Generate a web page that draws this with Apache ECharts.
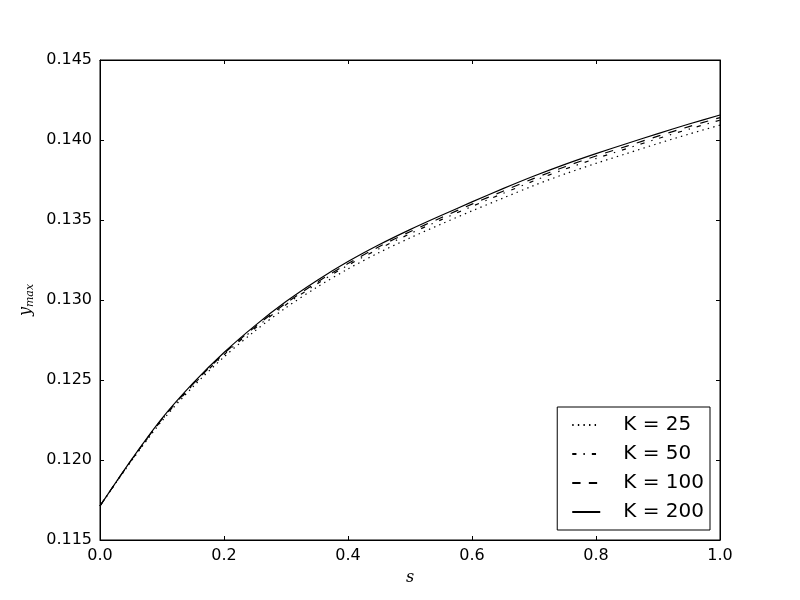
<!DOCTYPE html>
<html>
<head>
<meta charset="utf-8">
<script src="https://cdn.jsdelivr.net/npm/echarts@6/dist/echarts.min.js"></script>
<style>html,body{margin:0;padding:0;background:#fff}#c{width:800px;height:600px}</style>
</head>
<body>
<div id="c"></div>
<script>
var sValues = [0, 0.05, 0.1, 0.15, 0.2, 0.25, 0.3, 0.35, 0.4, 0.45, 0.5, 0.55, 0.6, 0.65, 0.7, 0.75, 0.8, 0.85, 0.9, 0.95, 1.0];
var k25  = [0.11713, 0.11990, 0.12244, 0.12458, 0.12644, 0.12807, 0.12952, 0.13080, 0.13194, 0.13296, 0.13388, 0.13474, 0.13557, 0.13637, 0.13716, 0.13788, 0.13854, 0.13916, 0.13978, 0.14037, 0.14093];
var k50  = [0.11713, 0.11994, 0.12252, 0.12469, 0.12658, 0.12823, 0.12971, 0.13101, 0.13217, 0.13320, 0.13414, 0.13501, 0.13585, 0.13666, 0.13745, 0.13818, 0.13884, 0.13947, 0.14009, 0.14068, 0.14124];
var k100 = [0.11713, 0.11996, 0.12256, 0.12474, 0.12665, 0.12832, 0.12980, 0.13111, 0.13228, 0.13333, 0.13427, 0.13514, 0.13599, 0.13680, 0.13760, 0.13833, 0.13900, 0.13962, 0.14024, 0.14084, 0.14140];
var k200 = [0.11713, 0.11998, 0.12260, 0.12480, 0.12672, 0.12840, 0.12990, 0.13122, 0.13240, 0.13345, 0.13440, 0.13528, 0.13613, 0.13696, 0.13775, 0.13848, 0.13915, 0.13978, 0.14040, 0.14100, 0.14156];
var seriesNames = ['K = 25', 'K = 50', 'K = 100', 'K = 200'];
var xTicks = [0.0, 0.2, 0.4, 0.6, 0.8, 1.0];
var yTicks = [0.115, 0.120, 0.125, 0.130, 0.135, 0.140, 0.145];

function pairs(ys) { return sValues.map(function (s, i) { return [s, ys[i]]; }); }

var styles = [
  { type: [1.4, 4.2] },
  { type: [4.2, 7, 1.4, 7] },
  { type: [8.3, 8.3] },
  { type: 'solid' }
];
var datasets = [k25, k50, k100, k200];

var chart = echarts.init(document.getElementById('c'), null, { renderer: 'canvas' });
var font = 'DejaVu Sans';
var tickStyle = { show: true, inside: true, length: 4, lineStyle: { color: '#000', width: 1 } };

chart.setOption({
  animation: false,
  backgroundColor: '#fff',
  grid: { left: 100, right: 80, top: 60, bottom: 60, show: true, borderColor: '#000', borderWidth: 1, backgroundColor: 'transparent' },
  legend: {
    data: seriesNames,
    orient: 'vertical',
    right: 90, bottom: 70,
    backgroundColor: '#fff',
    borderColor: '#000', borderWidth: 1,
    padding: [8, 6, 8, 14],
    itemWidth: 28, itemHeight: 20, itemGap: 9,
    itemStyle: { opacity: 0, borderWidth: 0 },
    textStyle: { fontFamily: font, fontSize: 20, color: '#000', padding: [0, 0, 0, 18] }
  },
  xAxis: [{
    type: 'value', min: 0, max: 1, interval: 0.2,
    name: 's', nameLocation: 'middle', nameGap: 30,
    nameTextStyle: { fontFamily: 'DejaVu Serif', fontStyle: 'italic', fontSize: 16, color: '#000' },
    axisLine: { show: true, onZero: false, lineStyle: { color: '#000' } },
    axisTick: tickStyle,
    axisLabel: { fontFamily: font, fontSize: 16, color: '#000', margin: 8, formatter: function (v) { return v.toFixed(1); } },
    splitLine: { show: false }
  }, {
    type: 'value', min: 0, max: 1, interval: 0.2, position: 'top',
    axisLine: { show: true, onZero: false, lineStyle: { color: '#000' } },
    axisTick: tickStyle, axisLabel: { show: false }, splitLine: { show: false }
  }],
  yAxis: [{
    type: 'value', min: 0.115, max: 0.145, interval: 0.005,
    name: '{y|y}{sub|max}', nameLocation: 'middle', nameGap: 56, nameRotate: 90,
    nameTextStyle: {
      rich: {
        y: { fontFamily: 'DejaVu Serif', fontStyle: 'italic', fontSize: 16, color: '#000' },
        sub: { fontFamily: 'DejaVu Serif', fontStyle: 'italic', fontSize: 11, color: '#000', padding: [8, 0, 0, 0] }
      }
    },
    axisLine: { show: true, onZero: false, lineStyle: { color: '#000' } },
    axisTick: tickStyle,
    axisLabel: { fontFamily: font, fontSize: 16, color: '#000', margin: 8, formatter: function (v) { return v.toFixed(3); } },
    splitLine: { show: false }
  }, {
    type: 'value', min: 0.115, max: 0.145, interval: 0.005, position: 'right',
    axisLine: { show: true, onZero: false, lineStyle: { color: '#000' } },
    axisTick: tickStyle, axisLabel: { show: false }, splitLine: { show: false }
  }],
  series: datasets.map(function (d, i) {
    return {
      name: seriesNames[i], type: 'line', data: pairs(d),
      smooth: 0.3, symbol: 'none', showSymbol: false,
      xAxisIndex: 0, yAxisIndex: 0,
      itemStyle: { color: '#000' },
      lineStyle: { color: '#000', width: 1.2, type: styles[i].type }
    };
  })
});
</script>
</body>
</html>
